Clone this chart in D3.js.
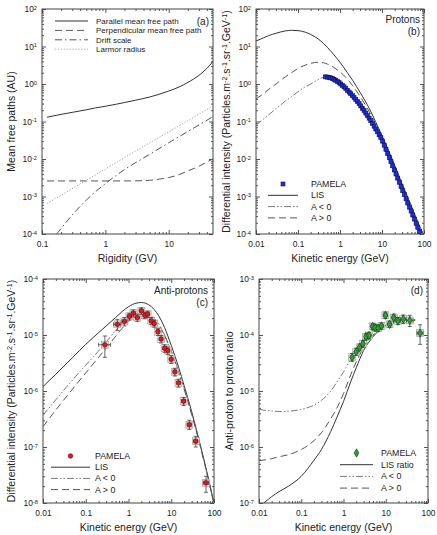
<!DOCTYPE html>
<html>
<head>
<meta charset="utf-8">
<script src="https://cdn.jsdelivr.net/npm/d3@7"></script>
<style>
  body { margin: 0; background: #fff; }
  text { font-family: "Liberation Sans", Arial, sans-serif; fill: #222; }
</style>
</head>
<body>
<svg id="fig" width="437" height="535"></svg>
<script>
// ---------- (a) mean free paths vs rigidity ----------
const aParallelP = [0.12, 0.2, 0.3, 0.5, 0.7, 1, 1.5, 2, 3, 5, 7, 10, 15, 20, 30, 40, 50];
const aParallel  = [0.13, 0.155, 0.175, 0.205, 0.23, 0.255, 0.29, 0.32, 0.37, 0.45, 0.53, 0.65, 0.85, 1.1, 1.7, 2.6, 4.0];
const aPerpP = [0.12, 0.5, 1, 2, 3, 5, 7, 10, 15, 20, 30, 40, 50];
const aPerp  = [0.0026, 0.0026, 0.0026, 0.0026, 0.00262, 0.0027, 0.0029, 0.0032, 0.0039, 0.0048, 0.0064, 0.0083, 0.0102];
const aDriftP = [0.17, 0.2, 0.3, 0.4, 0.5, 0.7, 1, 2, 5, 10, 20, 50];
const aDrift  = [1.0e-4, 1.4e-4, 3.2e-4, 5.5e-4, 8.0e-4, 1.35e-3, 2.2e-3, 5.2e-3, 1.33e-2, 2.7e-2, 5.4e-2, 0.135];
const aLarmorP = [0.12, 0.5, 1, 5, 10, 50];
const aLarmor  = [6.5e-4, 2.7e-3, 5.4e-3, 2.7e-2, 5.3e-2, 0.26];
const aLegend = ["Parallel mean free path", "Perpendicular mean free path", "Drift scale", "Larmor radius"];
const aXLabels = ["0.1", "1", "10"];

// ---------- (b) protons ----------
const bModelE = [0.01, 0.015, 0.02, 0.03, 0.05, 0.07, 0.1, 0.15, 0.2, 0.3, 0.4, 0.5, 0.7, 1, 1.5, 2, 3, 5, 7, 10, 15, 20, 30, 50, 70, 100];
const bLIS    = [14, 17, 19.5, 22.5, 26, 27, 26.5, 24, 21, 16, 12.2, 9.5, 6.2, 3.8, 2.0, 1.25, 0.6, 0.22, 0.1, 0.042, 0.015, 0.0068, 0.0022, 5.6e-4, 2.2e-4, 9e-5];
const bApos   = [0.40, 0.55, 0.72, 1.0, 1.55, 2.0, 2.6, 3.2, 3.55, 3.8, 3.7, 3.4, 2.8, 2.1, 1.35, 0.9, 0.47, 0.18, 0.085, 0.037, 0.0135, 0.0062, 0.002, 5.2e-4, 2.05e-4, 8.5e-5];
const bAneg   = [0.08, 0.115, 0.15, 0.22, 0.35, 0.46, 0.62, 0.85, 1.0, 1.3, 1.5, 1.52, 1.35, 1.05, 0.72, 0.5, 0.29, 0.125, 0.065, 0.031, 0.012, 0.0055, 0.0019, 5.0e-4, 2.0e-4, 8.3e-5];
const bPamelaE = [0.45, 0.50, 0.55, 0.60, 0.66, 0.72, 0.79, 0.87, 0.95, 1.04, 1.14, 1.25, 1.37, 1.50, 1.65, 1.80, 1.97, 2.16, 2.37, 2.60, 2.85, 3.12, 3.42, 3.75, 4.11, 4.50, 4.93, 5.40, 5.92, 6.49, 7.11, 7.79, 8.54, 9.36, 10.3, 11.3, 12.4, 13.6, 14.9, 16.3, 17.9, 19.6, 21.5, 23.6, 25.9, 28.4, 31.1, 34.1, 37.4, 41.0, 45.0, 49.3, 54.0, 59.2, 65.0, 71.0, 78.0];
const bPamela  = [1.55, 1.53, 1.50, 1.46, 1.40, 1.33, 1.26, 1.17, 1.09, 1.00, 0.92, 0.84, 0.76, 0.68, 0.61, 0.55, 0.49, 0.435, 0.385, 0.34, 0.30, 0.26, 0.225, 0.195, 0.168, 0.144, 0.123, 0.105, 0.089, 0.075, 0.063, 0.053, 0.044, 0.037, 0.030, 0.0233, 0.0181, 0.0140, 0.0109, 0.0085, 0.0066, 0.0051, 0.0040, 0.0031, 0.0024, 0.00186, 0.00144, 0.00112, 0.00087, 0.00067, 0.00052, 0.00041, 0.00032, 0.00025, 0.000192, 0.000149, 0.000116];
const bLegend = ["PAMELA", "LIS", "A < 0", "A > 0"];

// ---------- (c) anti-protons ----------
const cModelE = [0.01, 0.02, 0.05, 0.1, 0.2, 0.3, 0.5, 0.7, 1, 1.5, 2, 2.5, 3, 4, 5, 7, 10, 15, 20, 30, 50, 70, 100];
const cLIS  = [1.2e-6, 2.0e-6, 4.0e-6, 6.8e-6, 1.1e-5, 1.45e-5, 2.05e-5, 2.6e-5, 3.2e-5, 3.7e-5, 3.8e-5, 3.7e-5, 3.45e-5, 2.85e-5, 2.25e-5, 1.35e-5, 6.5e-6, 2.6e-6, 1.25e-6, 4.3e-7, 9.5e-8, 3.3e-8, 1.0e-8];
const cAneg = [3.7e-7, 7.0e-7, 1.6e-6, 2.9e-6, 5.2e-6, 7.5e-6, 1.2e-5, 1.55e-5, 2.0e-5, 2.45e-5, 2.6e-5, 2.55e-5, 2.4e-5, 2.0e-5, 1.6e-5, 1.0e-5, 5.2e-6, 2.2e-6, 1.1e-6, 3.9e-7, 9.0e-8, 3.1e-8, 9.5e-9];
const cApos = [2.3e-7, 4.6e-7, 1.1e-6, 2.1e-6, 4.0e-6, 5.8e-6, 9.5e-6, 1.3e-5, 1.75e-5, 2.25e-5, 2.45e-5, 2.45e-5, 2.3e-5, 1.95e-5, 1.55e-5, 9.8e-6, 5.1e-6, 2.15e-6, 1.08e-6, 3.85e-7, 8.9e-8, 3.1e-8, 9.5e-9];
const cPamelaE   = [0.28, 0.55, 0.80, 1.05, 1.30, 1.60, 2.00, 2.40, 2.80, 3.40, 4.00, 4.90, 5.80, 7.00, 8.30, 10.0, 12.2, 14.8, 19.5, 26.5, 37.5, 65.0];
const cPamela    = [6.7e-6, 1.55e-5, 1.75e-5, 2.15e-5, 2.45e-5, 2.05e-5, 2.70e-5, 2.25e-5, 2.35e-5, 1.80e-5, 1.60e-5, 1.15e-5, 8.5e-6, 5.8e-6, 5.3e-6, 3.7e-6, 2.2e-6, 1.4e-6, 6.6e-7, 2.5e-7, 1.27e-7, 2.3e-8];
const cPamelaLo  = [4.0e-6, 1.2e-5, 1.45e-5, 1.85e-5, 2.1e-5, 1.75e-5, 2.35e-5, 1.95e-5, 2.05e-5, 1.55e-5, 1.38e-5, 9.8e-6, 7.2e-6, 4.9e-6, 4.5e-6, 3.1e-6, 1.85e-6, 1.17e-6, 5.5e-7, 2.05e-7, 1.0e-7, 1.55e-8];
const cPamelaHi  = [9.6e-6, 1.9e-5, 2.05e-5, 2.45e-5, 2.8e-5, 2.35e-5, 3.05e-5, 2.55e-5, 2.65e-5, 2.05e-5, 1.82e-5, 1.32e-5, 9.8e-6, 6.7e-6, 6.1e-6, 4.3e-6, 2.55e-6, 1.63e-6, 7.7e-7, 3.0e-7, 1.55e-7, 3.0e-8];
const cPamelaELo = [0.20, 0.45, 0.70, 0.94, 1.18, 1.46, 1.84, 2.22, 2.62, 3.12, 3.72, 4.48, 5.38, 6.45, 7.65, 9.25, 11.2, 13.6, 17.6, 23.8, 33.5, 56.0];
const cPamelaEHi = [0.38, 0.66, 0.92, 1.17, 1.44, 1.78, 2.18, 2.60, 3.05, 3.68, 4.32, 5.32, 6.28, 7.55, 9.00, 10.8, 13.2, 16.2, 21.4, 29.2, 41.5, 74.0];
const cLegend = ["PAMELA", "LIS", "A < 0", "A > 0"];

// ---------- (d) anti-proton to proton ratio ----------
const dModelE = [0.01, 0.013, 0.02, 0.03, 0.05, 0.1, 0.2, 0.3, 0.5, 0.7, 1, 1.5, 2, 3, 5, 7, 10, 20, 40, 50];
const dLIS  = [8.5e-8, 1.0e-7, 1.3e-7, 1.6e-7, 2.0e-7, 3.0e-7, 5.8e-7, 9.0e-7, 1.9e-6, 3.4e-6, 6.5e-6, 1.5e-5, 2.6e-5, 5.3e-5, 9.3e-5, 1.22e-4, 1.48e-4, 1.74e-4, 1.84e-4, 1.85e-4];
const dAneg = [4.7e-6, 4.55e-6, 4.4e-6, 4.3e-6, 4.35e-6, 4.7e-6, 5.6e-6, 6.8e-6, 1.0e-5, 1.45e-5, 2.2e-5, 3.7e-5, 5.0e-5, 7.3e-5, 1.0e-4, 1.25e-4, 1.45e-4, 1.7e-4, 1.82e-4, 1.85e-4];
const dApos = [5.7e-7, 5.85e-7, 6.2e-7, 6.7e-7, 7.3e-7, 9.0e-7, 1.3e-6, 1.8e-6, 3.2e-6, 5.0e-6, 9.0e-6, 2.0e-5, 3.3e-5, 6.0e-5, 9.8e-5, 1.25e-4, 1.45e-4, 1.72e-4, 1.83e-4, 1.85e-4];
const dPamelaE   = [1.6, 2.0, 2.4, 2.9, 3.4, 4.0, 4.9, 5.6, 6.6, 7.9, 9.8, 12.3, 15.5, 19.5, 26, 37, 65];
const dPamela    = [4.0e-5, 5.0e-5, 6.0e-5, 7.0e-5, 9.3e-5, 9.8e-5, 1.42e-4, 1.35e-4, 1.32e-4, 1.45e-4, 2.25e-4, 1.55e-4, 2.05e-4, 1.78e-4, 1.92e-4, 1.82e-4, 1.08e-4];
const dPamelaLo  = [3.4e-5, 4.3e-5, 5.2e-5, 6.1e-5, 8.2e-5, 8.6e-5, 1.25e-4, 1.19e-4, 1.16e-4, 1.27e-4, 1.97e-4, 1.36e-4, 1.78e-4, 1.53e-4, 1.6e-4, 1.42e-4, 6.8e-5];
const dPamelaHi  = [4.7e-5, 5.8e-5, 6.9e-5, 8.0e-5, 1.05e-4, 1.11e-4, 1.6e-4, 1.52e-4, 1.5e-4, 1.64e-4, 2.55e-4, 1.76e-4, 2.35e-4, 2.06e-4, 2.28e-4, 2.25e-4, 1.52e-4];
const dPamelaELo = [1.5, 1.85, 2.2, 2.65, 3.15, 3.7, 4.5, 5.2, 6.1, 7.3, 9.0, 11.2, 14.0, 17.5, 22.5, 31.0, 55.0];
const dPamelaEHi = [1.75, 2.2, 2.65, 3.15, 3.7, 4.5, 5.2, 6.1, 7.3, 8.7, 10.8, 13.8, 17.2, 22.0, 30.0, 44.0, 76.0];
const dLegend = ["PAMELA", "LIS ratio", "A < 0", "A > 0"];

const eLabels = ["0.01", "0.1", "1", "10", "100"];

// ---------- drawing ----------
const svg = d3.select("#fig");
const FONT_TICK = 8.4, FONT_TITLE = 10.5, FONT_LEG = 8.8;

const STYLE = {
  solid:   { stroke: "#333", dash: null,                   w: 1 },
  dash:    { stroke: "#555", dash: "7,4",                  w: 1 },
  dashdd:  { stroke: "#7a7a7a", dash: "7,2,1.5,2,1.5,2",   w: 1 },
  dashdot: { stroke: "#555", dash: "7,3,1.5,3",            w: 1 },
  dotted:  { stroke: "#aaa", dash: "1.3,1.6",              w: 1 }
};

function minorTicks(dom) {
  const out = [];
  const k0 = Math.floor(Math.log10(dom[0])), k1 = Math.ceil(Math.log10(dom[1]));
  for (let k = k0; k <= k1; k++)
    for (let m = 2; m <= 9; m++) {
      const v = m * Math.pow(10, k);
      if (v > dom[0] * 1.0001 && v < dom[1] * 0.9999) out.push(v);
    }
  return out;
}

function supText(sel, parts) {
  let up = false;
  parts.forEach(([t, sup]) => {
    const ts = sel.append("tspan").text(t);
    if (sup) {
      ts.attr("font-size", "0.68em");
      if (!up) { ts.attr("dy", "-0.45em"); up = true; }
    } else if (up) {
      ts.attr("dy", "0.3em"); up = false;
    }
  });
}

function makePanel(cfg) {
  const { box, xDomain, yDomain, xLabels } = cfg;
  const x = d3.scaleLog().domain(xDomain).range([box.l, box.r]);
  const y = d3.scaleLog().domain(yDomain).range([box.b, box.t]);
  const g = svg.append("g");
  const clipId = "clip-" + cfg.name;
  svg.append("clipPath").attr("id", clipId).append("rect")
    .attr("x", box.l).attr("y", box.t).attr("width", box.r - box.l).attr("height", box.b - box.t);

  const xMaj = xLabels.map(Number);
  const yMaj = d3.range(Math.round(Math.log10(yDomain[0])), Math.round(Math.log10(yDomain[1])) + 1).map(k => Math.pow(10, k));
  const xMin = minorTicks(xDomain), yMin = minorTicks(yDomain);

  const axes = g.append("g").attr("class", "axes");
  const add = (axis, tr) => {
    const a = axes.append("g").attr("transform", tr).call(axis);
    a.select(".domain").remove();
    a.selectAll("line").attr("stroke", "#555");
    return a;
  };
  const bx = add(d3.axisBottom(x).tickValues(xMaj).tickSize(-4).tickPadding(7).tickFormat((d, i) => xLabels[i]), `translate(0,${box.b})`);
  bx.selectAll("text").attr("font-size", FONT_TICK).attr("fill", "#222").attr("font-family", null);
  add(d3.axisBottom(x).tickValues(xMin).tickSize(-2).tickFormat(""), `translate(0,${box.b})`);
  add(d3.axisTop(x).tickValues(xMaj).tickSize(-4).tickFormat(""), `translate(0,${box.t})`);
  add(d3.axisTop(x).tickValues(xMin).tickSize(-2).tickFormat(""), `translate(0,${box.t})`);
  const ly = add(d3.axisLeft(y).tickValues(yMaj).tickSize(-4).tickPadding(5).tickFormat(""), `translate(${box.l},0)`);
  ly.selectAll(".tick text").attr("font-size", FONT_TICK).attr("fill", "#222").attr("font-family", null)
    .each(function (d) { supText(d3.select(this), [["10", false], [String(Math.round(Math.log10(d))), true]]); });
  add(d3.axisLeft(y).tickValues(yMin).tickSize(-2).tickFormat(""), `translate(${box.l},0)`);
  add(d3.axisRight(y).tickValues(yMaj).tickSize(-4).tickFormat(""), `translate(${box.r},0)`);
  add(d3.axisRight(y).tickValues(yMin).tickSize(-2).tickFormat(""), `translate(${box.r},0)`);

  g.append("rect").attr("x", box.l).attr("y", box.t).attr("width", box.r - box.l).attr("height", box.b - box.t)
    .attr("fill", "none").attr("stroke", "#444").attr("stroke-width", 1);

  // axis titles
  const xt = g.append("text").attr("x", (box.l + box.r) / 2).attr("y", box.b + 28)
    .attr("text-anchor", "middle").attr("font-size", FONT_TITLE);
  supText(xt, cfg.xTitle);
  const yt = g.append("text").attr("transform", `translate(${cfg.yTitleX},${(box.t + box.b) / 2}) rotate(-90)`)
    .attr("text-anchor", "middle").attr("font-size", FONT_TITLE);
  supText(yt, cfg.yTitle);

  const plot = g.append("g").attr("clip-path", `url(#${clipId})`);
  const line = d3.line().x(d => x(d[0])).y(d => y(d[1])).curve(d3.curveMonotoneX);
  const curve = (xs, ys, st) => plot.append("path").datum(d3.zip(xs, ys)).attr("d", line)
    .attr("fill", "none").attr("stroke", STYLE[st].stroke).attr("stroke-width", STYLE[st].w)
    .attr("stroke-dasharray", STYLE[st].dash);
  return { x, y, g, plot, curve, box };
}

function legend(p, entries, lx0, lx1, tx, ty, dy, fs) {
  const lg = p.g.append("g");
  entries.forEach((e, i) => {
    const yy = ty + i * dy;
    if (e.style) {
      const st = STYLE[e.style];
      lg.append("line").attr("x1", lx0).attr("x2", lx1).attr("y1", yy).attr("y2", yy)
        .attr("stroke", st.stroke).attr("stroke-width", st.w).attr("stroke-dasharray", st.dash);
    } else if (e.marker) {
      e.marker(lg, (lx0 + lx1) / 2, yy);
    }
    lg.append("text").attr("x", tx).attr("y", yy).attr("dy", "0.35em").attr("font-size", fs || FONT_LEG).text(e.label);
  });
}

function cornerLabel(p, lines, xr, y0, dy) {
  lines.forEach((t, i) => p.g.append("text").attr("x", xr).attr("y", y0 + i * dy)
    .attr("text-anchor", "end").attr("font-size", 10).text(t));
}

const intensityTitle = [["Differential intensity (Particles.m", false], ["-2", true], [".s", false], ["-1", true],
  [".sr", false], ["-1", true], [".GeV", false], ["-1", true], [")", false]];

// markers
const squareMark = (sel, cx, cy) => sel.append("rect").attr("x", cx - 2).attr("y", cy - 2).attr("width", 4).attr("height", 4)
  .attr("fill", "#1f2fd8").attr("stroke", "#0a0f55").attr("stroke-width", 0.6);
const redMark = (sel, cx, cy) => sel.append("circle").attr("cx", cx).attr("cy", cy).attr("r", 2.3)
  .attr("fill", "#e8141a").attr("stroke", "#6a0a0a").attr("stroke-width", 0.6);
const greenMark = (sel, cx, cy) => sel.append("path").attr("transform", `translate(${cx},${cy})`)
  .attr("d", d3.symbol(d3.symbolDiamond, 20)()).attr("fill", "#2ca02c").attr("stroke", "#0c3d0c").attr("stroke-width", 0.6);

function errorPoints(p, E, V, lo, hi, elo, ehi, marker) {
  const { x, y, plot } = p;
  const grp = plot.append("g");
  E.forEach((e, i) => {
    const cx = x(e), cy = y(V[i]);
    // systematic box
    grp.append("rect").attr("x", cx - 3.5).attr("y", cy - 3.5).attr("width", 7).attr("height", 7)
      .attr("fill", "#d9d9d9").attr("stroke", "#a0a0a0").attr("stroke-width", 0.6);
  });
  E.forEach((e, i) => {
    const cx = x(e), cy = y(V[i]);
    const yl = y(lo[i]), yh = y(hi[i]), xl = x(elo[i]), xh = x(ehi[i]);
    const seg = (x1, y1, x2, y2) => grp.append("line").attr("x1", x1).attr("y1", y1).attr("x2", x2).attr("y2", y2)
      .attr("stroke", "#444").attr("stroke-width", 0.8);
    seg(cx, yl, cx, yh); seg(cx - 2, yl, cx + 2, yl); seg(cx - 2, yh, cx + 2, yh);
    seg(xl, cy, xh, cy); seg(xl, cy - 2, xl, cy + 2); seg(xh, cy - 2, xh, cy + 2);
  });
  E.forEach((e, i) => marker(grp, x(e), y(V[i])));
}

// ----- panel (a)
const pa = makePanel({
  name: "a", box: { l: 42, r: 213, t: 9, b: 234 }, xDomain: [0.1, 50], yDomain: [1e-4, 1e2], xLabels: aXLabels,
  xTitle: [["Rigidity (GV)", false]], yTitle: [["Mean free paths (AU)", false]], yTitleX: 15
});
pa.curve(aParallelP, aParallel, "solid");
pa.curve(aPerpP, aPerp, "dash");
pa.curve(aDriftP, aDrift, "dashdot");
pa.curve(aLarmorP, aLarmor, "dotted");
legend(pa, aLegend.map((l, i) => ({ label: l, style: ["solid", "dash", "dashdot", "dotted"][i] })), 55, 88, 96, 21, 9.4, 8);
cornerLabel(pa, ["(a)"], 209, 25, 12);

// ----- panel (b)
const pb = makePanel({
  name: "b", box: { l: 256, r: 424, t: 9, b: 234 }, xDomain: [0.01, 100], yDomain: [1e-4, 1e2], xLabels: eLabels,
  xTitle: [["Kinetic energy (GeV)", false]], yTitle: intensityTitle, yTitleX: 230
});
pb.curve(bModelE, bLIS, "solid");
pb.curve(bModelE, bApos, "dash");
pb.curve(bModelE, bAneg, "dashdd");
bPamelaE.forEach((e, i) => squareMark(pb.plot, pb.x(e), pb.y(bPamela[i])));
legend(pb, [
  { label: bLegend[0], marker: squareMark },
  { label: bLegend[1], style: "solid" },
  { label: bLegend[2], style: "dashdd" },
  { label: bLegend[3], style: "dash" }
], 268, 298, 311, 184, 11.3);
cornerLabel(pb, ["Protons", "(b)"], 420, 23, 12);

// ----- panel (c)
const pc = makePanel({
  name: "c", box: { l: 43, r: 214, t: 279, b: 503 }, xDomain: [0.01, 100], yDomain: [1e-8, 1e-4], xLabels: eLabels,
  xTitle: [["Kinetic energy (GeV)", false]], yTitle: intensityTitle, yTitleX: 15
});
pc.curve(cModelE, cLIS, "solid");
pc.curve(cModelE, cAneg, "dashdd");
pc.curve(cModelE, cApos, "dash");
errorPoints(pc, cPamelaE, cPamela, cPamelaLo, cPamelaHi, cPamelaELo, cPamelaEHi, redMark);
legend(pc, [
  { label: cLegend[0], marker: redMark },
  { label: cLegend[1], style: "solid" },
  { label: cLegend[2], style: "dashdd" },
  { label: cLegend[3], style: "dash" }
], 51, 90, 95, 456, 11.2);
cornerLabel(pc, ["Anti-protons", "(c)"], 208, 294, 12);

// ----- panel (d)
const pd = makePanel({
  name: "d", box: { l: 259, r: 428, t: 279, b: 503 }, xDomain: [0.01, 100], yDomain: [1e-7, 1e-3], xLabels: eLabels,
  xTitle: [["Kinetic energy (GeV)", false]], yTitle: [["Anti-proton to proton ratio", false]], yTitleX: 233
});
pd.curve(dModelE, dLIS, "solid");
pd.curve(dModelE, dAneg, "dashdd");
pd.curve(dModelE, dApos, "dash");
errorPoints(pd, dPamelaE, dPamela, dPamelaLo, dPamelaHi, dPamelaELo, dPamelaEHi, greenMark);
legend(pd, [
  { label: dLegend[0], marker: greenMark },
  { label: dLegend[1], style: "solid" },
  { label: dLegend[2], style: "dashdd" },
  { label: dLegend[3], style: "dash" }
], 340, 373, 381, 453, 11.7);
cornerLabel(pd, ["(d)"], 423, 294, 12);
</script>
</body>
</html>
